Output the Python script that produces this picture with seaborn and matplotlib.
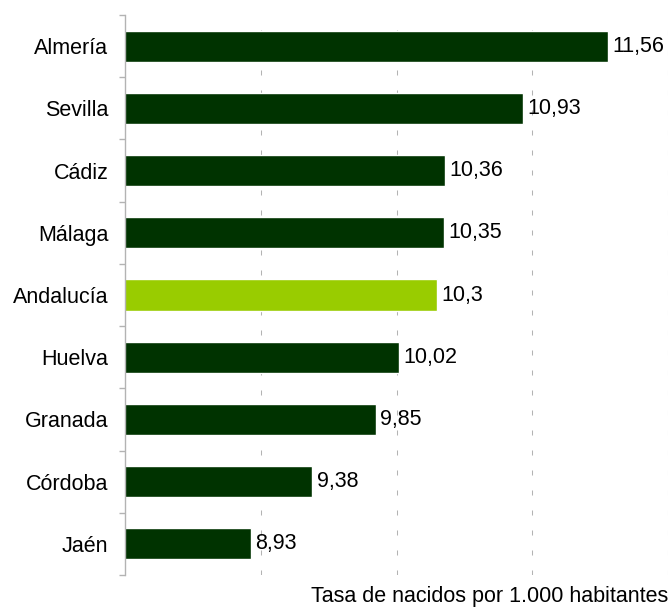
import matplotlib
matplotlib.use("Agg")
import matplotlib.pyplot as plt
import seaborn as sns
import pandas as pd
import numpy as np

provincias = ["Almería", "Sevilla", "Cádiz", "Málaga", "Andalucía", "Huelva", "Granada", "Córdoba", "Jaén"]
tasas = [11.56, 10.93, 10.36, 10.35, 10.3, 10.02, 9.85, 9.38, 8.93]
etiquetas = ["11,56", "10,93", "10,36", "10,35", "10,3", "10,02", "9,85", "9,38", "8,93"]
colores = ["#003300", "#003300", "#003300", "#003300", "#99CC00", "#003300", "#003300", "#003300", "#003300"]
x_titulo = "Tasa de nacidos por 1.000 habitantes"

sns.set_theme(style="white")
plt.rcParams['font.family'] = ['Liberation Sans', 'DejaVu Sans']

df = pd.DataFrame({"provincia": provincias, "tasa": tasas})

fig = plt.figure(figsize=(6.72, 6.11), dpi=100)
ax = fig.add_axes([125/672, 1 - 575/611, (668 - 125)/672, (575 - 15)/611])

sns.barplot(data=df, y="provincia", x="tasa", hue="provincia", palette=colores,
            legend=False, width=0.5, saturation=1, ax=ax, orient="h")

ax.set_xlim(8, 12)
ax.set_ylim(len(provincias) - 0.5, -0.5)
ax.set_xticks([9, 10, 11, 12])
ax.tick_params(axis='x', length=0, labelbottom=False)
ax.xaxis.grid(True, color="#b3b3b3", linewidth=0.75, linestyle=(0, (4.8, 14.4)))
ax.yaxis.grid(False)
ax.set_axisbelow(True)

for s in ["top", "right", "bottom"]:
    ax.spines[s].set_visible(False)
ax.spines["left"].set_color("#b3b3b3")
ax.spines["left"].set_linewidth(1)

ax.tick_params(axis='y', which='major', length=0, pad=12, labelsize=15.5, labelcolor="black")
ax.set_yticks(np.arange(len(provincias) + 1) - 0.5, minor=True)
ax.tick_params(axis='y', which='minor', length=4, color="#b3b3b3", width=1, left=True)

for cont in ax.containers:
    vals = [etiquetas[int(round(b.get_y() + b.get_height() / 2))] for b in cont]
    ax.bar_label(cont, labels=vals, padding=3, fontsize=15.5, color="black")

ax.set_ylabel("")
ax.set_xlabel(x_titulo, loc="right", fontsize=15.5, labelpad=8, color="black")

fig.savefig("out.png", dpi=100)
